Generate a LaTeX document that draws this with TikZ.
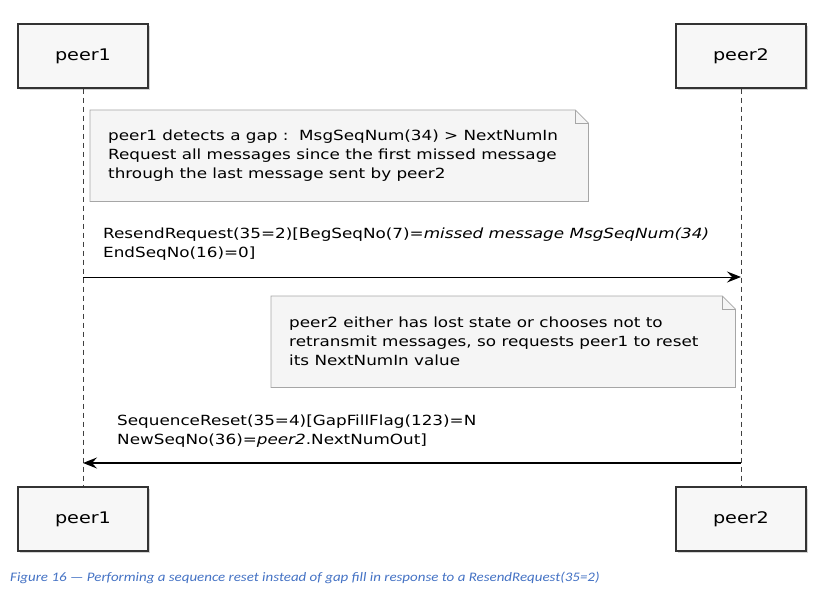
\documentclass[tikz,border=0pt]{standalone}
\usepackage{fontspec}
\usepackage{tikz}
\usetikzlibrary{arrows.meta,shadows}

\newfontfamily\umlfont[FakeStretch=1.2]{DejaVu Sans}
\newfontfamily\capfont[FakeStretch=1.15]{Carlito}
\definecolor{capblue}{RGB}{68,114,196}

\begin{document}
\begin{tikzpicture}[
      x=1pt, y=-1pt,
      actor/.style = {draw=black!80, fill=black!3, line width=1.1pt,
                      minimum width=130pt, minimum height=64pt,
                      font=\umlfont\fontsize{16}{19}\selectfont,
                      drop shadow={shadow xshift=2pt, shadow yshift=-2pt, opacity=0.35}},
      life/.style = {draw=black!75, line width=0.8pt, dash pattern=on 5pt off 4pt},
      msg/.style = {line width=1pt, -{Stealth[length=14pt, width=11pt, inset=5pt]}},
      msgtext/.style = {font=\umlfont\fontsize{14}{19}\selectfont, align=left,
                        anchor=west, inner sep=0pt},
      notebox/.style = {minimum height=91pt, inner sep=0pt, anchor=north west},
      notebg/.style = {fill=black!4, draw=black!35, line width=0.8pt},
      >=Stealth
    ]
    \def\fold{13pt}
    \useasboundingbox (0,0) rectangle (815,602);

    % participants, top and bottom, with their lifelines
    \foreach \p/\x in {1/83, 2/741}{
      \node[actor] (top\p) at (\x,56)  {peer\p};
      \node[actor] (bot\p) at (\x,519) {peer\p};
      \draw[life] (top\p) -- (bot\p);
    }

    % first note
    \node[notebox, minimum width=498pt] (gap) at (90,110) {};
    \filldraw[notebg] (gap.north west) -- ([xshift=-\fold]gap.north east)
      -- ([yshift=-\fold]gap.north east) -- (gap.south east) -- (gap.south west) -- cycle;
    \draw[notebg, fill=none] ([xshift=-\fold]gap.north east) |- ([yshift=-\fold]gap.north east);
    \node[msgtext] (gaptext) at ([xshift=18pt]gap.west)
      {peer1 detects a gap :\ \ MsgSeqNum(34) > NextNumIn\\
       Request all messages since the first missed message\\
       through the last message sent by peer2};

    % resend request
    \coordinate (req1) at (83,277);
    \coordinate (req2) at (741,277);
    \draw[msg] (req1) -- (req2);
    \node[msgtext] (reqtext) at (103,244)
      {ResendRequest(35=2)[BegSeqNo(7)=\textit{missed message MsgSeqNum(34)}\\
       EndSeqNo(16)=0]};

    % second note
    \node[notebox, minimum width=464pt] (lost) at (271,296) {};
    \filldraw[notebg] (lost.north west) -- ([xshift=-\fold]lost.north east)
      -- ([yshift=-\fold]lost.north east) -- (lost.south east) -- (lost.south west) -- cycle;
    \draw[notebg, fill=none] ([xshift=-\fold]lost.north east) |- ([yshift=-\fold]lost.north east);
    \node[msgtext] (losttext) at ([xshift=18pt]lost.west)
      {peer2 either has lost state or chooses not to\\
       retransmit messages, so requests peer1 to reset\\
       its NextNumIn value};

    % sequence reset
    \coordinate (rst2) at (741,463);
    \coordinate (rst1) at (83,463);
    \draw[msg, line width=1.5pt] (rst2) -- (rst1);
    \node[msgtext] (rsttext) at (117,431)
      {SequenceReset(35=4)[GapFillFlag(123)=N\\
       NewSeqNo(36)=\textit{peer2}.NextNumOut]};

    % caption
    \node[anchor=west, inner sep=0pt, text=capblue,
          font=\capfont\itshape\fontsize{13}{15}\selectfont] (caption) at (10,578)
      {Figure 16 — Performing a sequence reset instead of gap fill in response to a ResendRequest(35=2)};
  \end{tikzpicture}
\end{document}
